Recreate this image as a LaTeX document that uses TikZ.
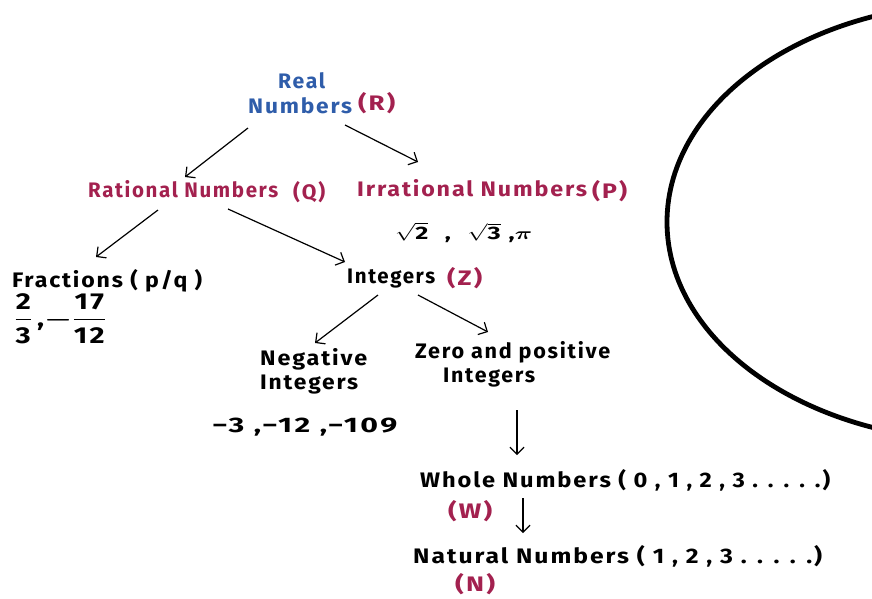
\documentclass[tikz,border=0pt]{standalone}
\usepackage{amsmath}
\usepackage{graphicx}
\usepackage{fontspec}
\setmainfont{Fira Sans}[LetterSpace=8]
\usetikzlibrary{arrows.meta}
\definecolor{realblue}{RGB}{47,93,170}
\definecolor{setmaroon}{RGB}{163,33,79}
\newsavebox\fitbox
\newcommand\fitw[2]{\sbox\fitbox{#2}\pgfmathsetmacro\fitsf{#1/\wd\fitbox}\scalebox{\fitsf}[1]{\usebox\fitbox}}
\tikzset{
  lbl/.style={anchor=base west, inner sep=0pt, font=\fontsize{21}{25}\selectfont\bfseries},
  blk/.style={lbl, text=black},
  bluelbl/.style={lbl, text=realblue},
  redlbl/.style={lbl, text=setmaroon},
  arr/.style={-{Straight Barb[length=7pt,width=14pt]}, line width=1.2pt, black},
}
\begin{document}
\begin{tikzpicture}[x=1pt,y=-1pt]
\useasboundingbox (0,0) rectangle (872,598);
\fill[white] (0,0) rectangle (872,598);
\begin{scope}
\clip (0,0) rectangle (872,598);
\draw[line width=4.8pt] (982,222) ellipse [x radius=315, y radius=219];
\end{scope}
% labels
\node[bluelbl] (realA) at (278,88) {\fitw{47pt}{Real}};
\node[bluelbl] (realB) at (248,113) {\fitw{104pt}{Numbers}};
\node[redlbl] (realR) at (358,110) {\fitw{37pt}{(R)}};
\node[redlbl] (rat) at (88,197) {\fitw{190pt}{Rational Numbers}};
\node[redlbl] (ratQ) at (293,199) {\fitw{32pt}{(Q)}};
\node[redlbl] (irr) at (357,196) {\fitw{230pt}{Irrational Numbers}};
\node[redlbl] (irrP) at (592,198) {\fitw{35pt}{(P)}};
\node[blk, font=\fontsize{18}{20}\selectfont\bfseries] (irrex) at (395,239) {\fitw{137pt}{$\sqrt{\textbf{2}}$\,\, ,\,\, $\sqrt{\textbf{3}}$ ,$\boldsymbol{\pi}$}};
\node[blk] (frac) at (12,287) {\fitw{190pt}{Fractions ( p/q )}};
\node[blk, font=\fontsize{23}{25}\selectfont\bfseries] (fracex) at (14,326) {\fitw{92pt}{$\dfrac{\textbf{2}}{\textbf{3}}$\,,$\boldsymbol{-}\dfrac{\textbf{17}}{\textbf{12}}$}};
\node[blk] (int) at (347,283) {\fitw{88pt}{Integers}};
\node[redlbl] (intZ) at (447,285) {\fitw{35pt}{(Z)}};
\node[blk] (neg) at (260,365) {\fitw{107pt}{Negative}};
\node[blk] (neg2) at (260,389) {\fitw{98pt}{Integers}};
\node[blk] (zero) at (415,358) {\fitw{195pt}{Zero and positive}};
\node[blk] (zero2) at (443,382) {\fitw{92pt}{Integers}};
\node[blk] (negex) at (212,432) {\fitw{185pt}{−3 ,−12 ,−109}};
\node[blk] (whole) at (420,487) {\fitw{410pt}{Whole Numbers ( 0 , 1 , 2 , 3 . . . . .)}};
\node[redlbl] (wholeW) at (448,518) {\fitw{44pt}{(W)}};
\node[blk] (nat) at (413,563) {\fitw{409pt}{Natural Numbers ( 1 , 2 , 3 . . . . .)}};
\node[redlbl] (natN) at (455,591) {\fitw{40pt}{(N)}};
% arrows
\draw[arr] ([shift={(0,15)}]realB.base west) -- ([shift={(97,-20)}]rat.base west);
\draw[arr] ([shift={(-13,15)}]realR.base west) -- ([shift={(61,-34)}]irr.base west);
\draw[arr] ([shift={(70,13)}]rat.base west) -- ([shift={(84,-30)}]frac.base west);
\draw[arr] ([shift={(140,12)}]rat.base west) -- ([shift={(-2,-21)}]int.base west);
\draw[arr] ([shift={(31,12)}]int.base west) -- ([shift={(55,-22)}]neg.base west);
\draw[arr] ([shift={(71,12)}]int.base west) -- ([shift={(73,-26)}]zero.base west);
\draw[arr] ([shift={(74,28)}]zero2.base west) -- ([shift={(97,-32)}]whole.base west);
\draw[arr] ([shift={(103,11)}]whole.base west) -- ([shift={(110,-30)}]nat.base west);
\end{tikzpicture}
\end{document}
